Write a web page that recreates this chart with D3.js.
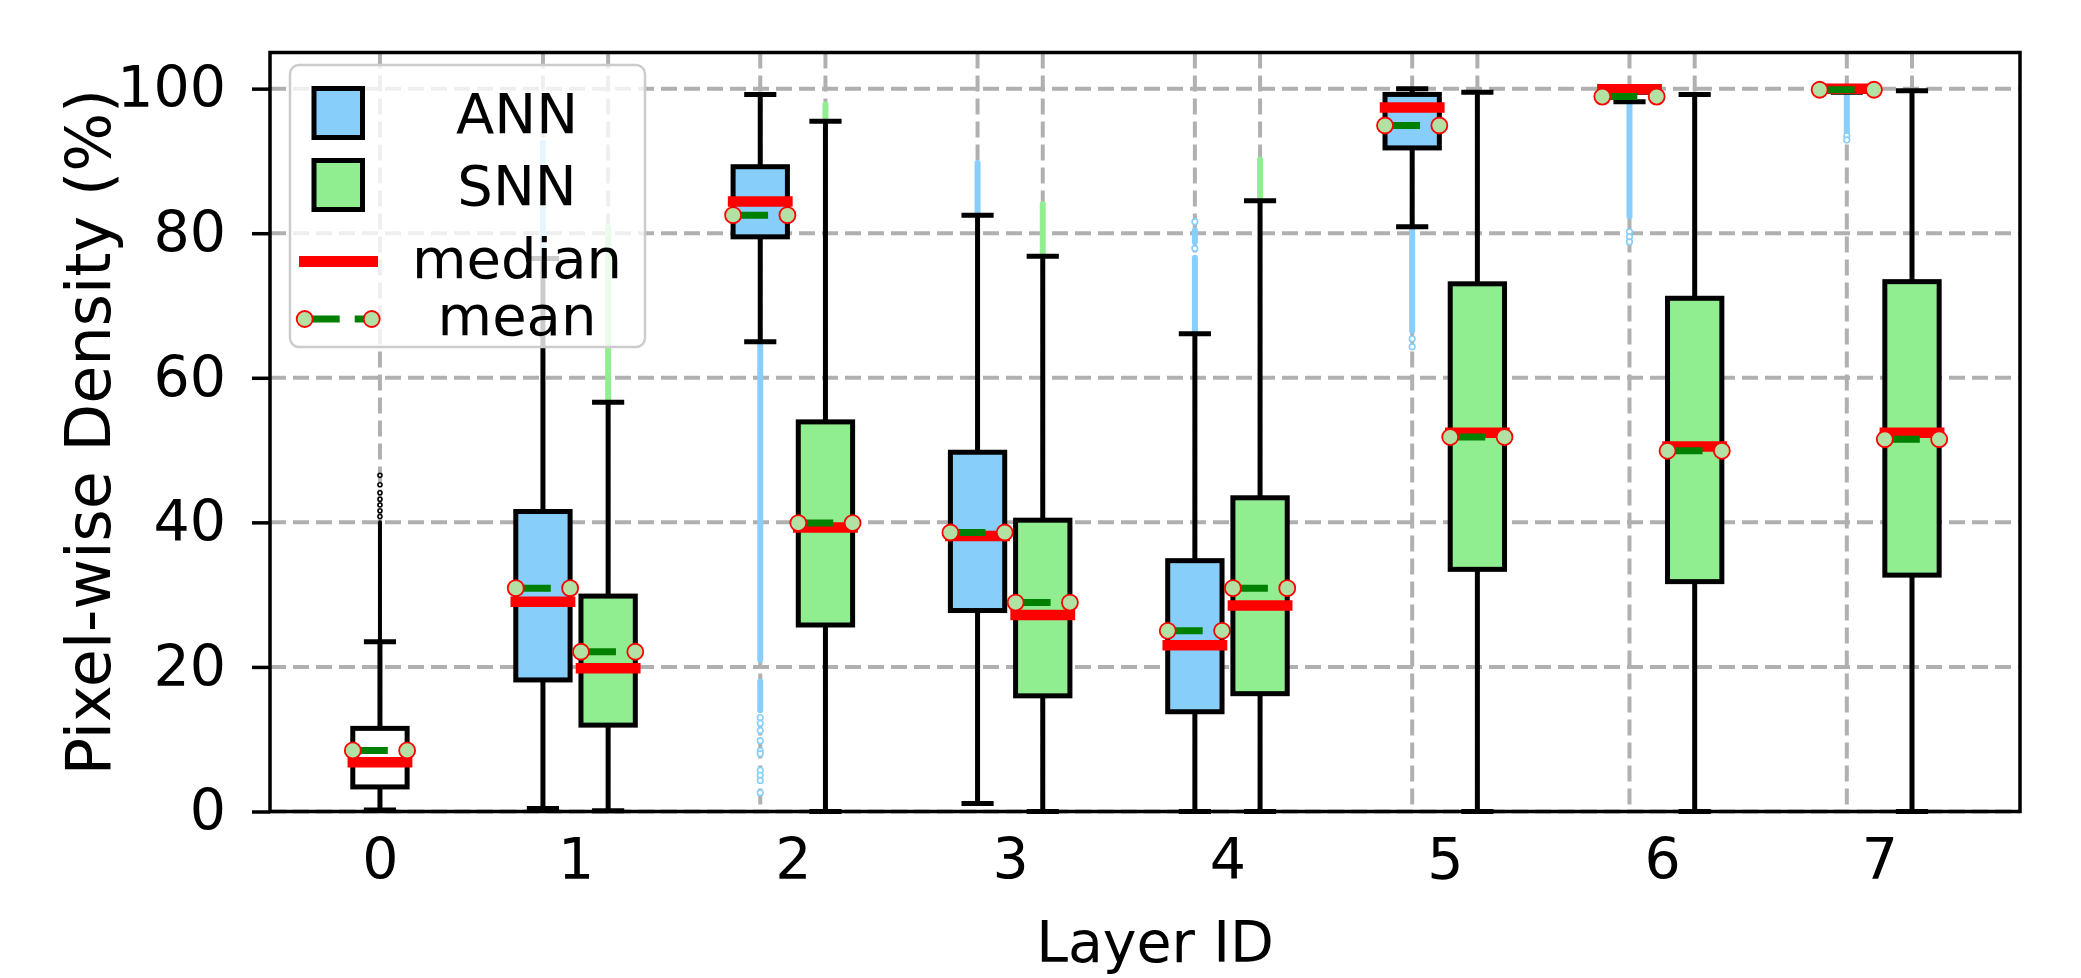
<!DOCTYPE html>
<html>
<head>
<meta charset="utf-8">
<script src="https://cdn.jsdelivr.net/npm/d3@7"></script>
<style>
  html, body { margin: 0; padding: 0; background: #fff; }
  svg { display: block; font-family: "DejaVu Sans", sans-serif; }
</style>
</head>
<body>
<svg id="chart" width="2081" height="978"></svg>
<script>
// ---------------- data ----------------
const layers = ["0", "1", "2", "3", "4", "5", "6", "7"];
const yTicks = [0, 20, 40, 60, 80, 100];

// layer 0 (input, single box)
const inputStats = { lo: 0.2, q1: 3.4, med: 6.8, q3: 11.5, hi: 23.5, mean: 8.45 };
const inputFlierRuns = [[23.5, 40]];
const inputFlierPoints = [40.8, 41.6, 42.4, 43.2, 44.1, 45.2, 46.5];

// layers 1..7
const annLow    = [0.4, 65.0, 1.1, 0.0, 80.9, 98.2, 99.5];
const annQ1     = [18.2, 79.5, 27.8, 13.8, 91.8, 99.5, 99.8];
const annMedian = [29.0, 84.4, 38.1, 23.0, 97.4, 99.9, 100.0];
const annQ3     = [41.5, 89.2, 49.7, 34.7, 99.2, 100.0, 100.0];
const annHigh   = [76.5, 99.2, 82.5, 66.1, 100.0, 100.0, 100.0];
const annMean   = [30.9, 82.5, 38.6, 25.0, 94.9, 98.9, 99.85];
const annFlierRuns = [
  [[76.5, 92.5]],
  [[21, 65], [14, 18]],
  [[82.5, 89.7]],
  [[66.1, 76.6], [78.8, 80.4]],
  [[66.5, 80.9]],
  [[82.3, 98.2]],
  [[94.0, 99.5]]
];
const annFlierPoints = [
  [],
  [13.0, 12.2, 11.2, 9.8, 8.4, 8.0, 5.7, 5.0, 4.3, 2.6],
  [],
  [77.9, 81.6],
  [65.4, 64.3],
  [80.2, 79.5, 78.8],
  [93.5, 92.9]
];

const snnLow    = [0.1, 0.0, 0.0, 0.0, 0.0, 0.0, 0.0];
const snnQ1     = [11.95, 25.8, 16.0, 16.3, 33.5, 31.8, 32.7];
const snnMedian = [19.8, 39.3, 27.2, 28.5, 52.4, 50.5, 52.4];
const snnQ3     = [29.8, 53.9, 40.3, 43.4, 73.0, 71.0, 73.3];
const snnHigh   = [56.6, 95.5, 76.8, 84.5, 99.5, 99.2, 99.7];
const snnMean   = [22.1, 39.9, 28.9, 30.9, 51.8, 49.9, 51.5];
const snnFlierRuns = [
  [[56.6, 80.9]],
  [[95.5, 97.8]],
  [[76.8, 84.0]],
  [[84.5, 90.2]],
  [], [], []
];

const seriesNames = ["ANN", "SNN"];

// ---------------- layout ----------------
const L = 270, R = 2020, T = 52.5, B = 811.5;
const svg = d3.select("#chart");

const x = d3.scaleLinear().domain([-0.406, 7.647]).range([L, R]);
const y = d3.scaleLinear().domain([0, 105]).range([B, T]);

const boxW = 0.25;       // box width in layer units
const pairOff = 0.15;    // ANN / SNN offset from the layer centre
const inputOff = 0.1;    // layer 0 box offset
const layerCenter = i => (i === 0 ? i + inputOff : i);

const colors = {
  ann: "#87cefa", snn: "#90ee90", input: "#ffffff",
  median: "#ff0000", mean: "#008000", meanDot: "#b3e0a3", grid: "#b0b0b0"
};
const lineW = 5;

// ---------------- grid ----------------
const grid = svg.append("g");
grid.selectAll("line.h").data(yTicks).join("line")
  .attr("x1", L).attr("x2", R)
  .attr("y1", d => y(d)).attr("y2", d => y(d))
  .attr("stroke", colors.grid).attr("stroke-width", 4)
  .attr("stroke-dasharray", "16,7");

const boxPositions = [layerCenter(0)];
for (let i = 1; i < layers.length; i++) {
  boxPositions.push(layerCenter(i) - pairOff, layerCenter(i) + pairOff);
}
grid.selectAll("line.v").data(boxPositions).join("line")
  .attr("x1", d => x(d)).attr("x2", d => x(d))
  .attr("y1", T).attr("y2", B)
  .attr("stroke", colors.grid).attr("stroke-width", 4)
  .attr("stroke-dasharray", "16,7");

// ---------------- boxes ----------------
const plot = svg.append("g");
const bwPx = x(boxW) - x(0);

function drawBox(pos, s, fill, flierColor, runs, points, flierSmall) {
  const cx = x(pos);
  const g = plot.append("g");
  // fliers
  g.selectAll("line.run").data(runs).join("line")
    .attr("x1", cx).attr("x2", cx)
    .attr("y1", d => y(d[0])).attr("y2", d => y(d[1]))
    .attr("stroke", flierColor).attr("stroke-width", flierSmall ? 4 : 6)
    .attr("stroke-linecap", "round");
  g.selectAll("circle.pt").data(points).join("circle")
    .attr("cx", cx).attr("cy", d => y(d))
    .attr("r", flierSmall ? 2 : 2.8)
    .attr("fill", "#fff").attr("stroke", flierColor).attr("stroke-width", 1.6);
  // whiskers
  g.append("line").attr("x1", cx).attr("x2", cx)
    .attr("y1", y(s.q1)).attr("y2", y(s.lo))
    .attr("stroke", "#000").attr("stroke-width", lineW);
  g.append("line").attr("x1", cx).attr("x2", cx)
    .attr("y1", y(s.q3)).attr("y2", y(s.hi))
    .attr("stroke", "#000").attr("stroke-width", lineW);
  // caps
  [s.lo, s.hi].forEach(v => {
    g.append("line").attr("x1", cx - bwPx / 4).attr("x2", cx + bwPx / 4)
      .attr("y1", y(v)).attr("y2", y(v))
      .attr("stroke", "#000").attr("stroke-width", lineW)
      .attr("stroke-linecap", "square");
  });
  // box
  g.append("rect")
    .attr("x", cx - bwPx / 2).attr("width", bwPx)
    .attr("y", y(s.q3)).attr("height", Math.max(0, y(s.q1) - y(s.q3)))
    .attr("fill", fill).attr("stroke", "#000").attr("stroke-width", lineW);
  // median
  g.append("line").attr("x1", cx - bwPx / 2).attr("x2", cx + bwPx / 2)
    .attr("y1", y(s.med)).attr("y2", y(s.med))
    .attr("stroke", colors.median).attr("stroke-width", 10.5)
    .attr("stroke-linecap", "square");
  // mean
  g.append("line").attr("x1", cx - bwPx / 2).attr("x2", cx + bwPx / 2)
    .attr("y1", y(s.mean)).attr("y2", y(s.mean))
    .attr("stroke", colors.mean).attr("stroke-width", 7)
    .attr("stroke-dasharray", "35,15");
  [cx - bwPx / 2, cx + bwPx / 2].forEach(px => {
    g.append("circle").attr("cx", px).attr("cy", y(s.mean)).attr("r", 8)
      .attr("fill", colors.meanDot).attr("stroke", colors.median).attr("stroke-width", 1.8);
  });
}

drawBox(layerCenter(0), inputStats, colors.input, "#000", inputFlierRuns, inputFlierPoints, true);
for (let k = 0; k < annQ1.length; k++) {
  const i = k + 1;
  drawBox(layerCenter(i) - pairOff,
    { lo: annLow[k], q1: annQ1[k], med: annMedian[k], q3: annQ3[k], hi: annHigh[k], mean: annMean[k] },
    colors.ann, colors.ann, annFlierRuns[k], annFlierPoints[k], false);
  drawBox(layerCenter(i) + pairOff,
    { lo: snnLow[k], q1: snnQ1[k], med: snnMedian[k], q3: snnQ3[k], hi: snnHigh[k], mean: snnMean[k] },
    colors.snn, colors.snn, snnFlierRuns[k], [], false);
}

// ---------------- axes ----------------
const yAxis = svg.append("g").attr("transform", `translate(${L},0)`)
  .call(d3.axisLeft(y).tickValues(yTicks).tickSize(18).tickPadding(26));
yAxis.select(".domain").remove();
yAxis.selectAll(".tick line").attr("stroke", "#000").attr("stroke-width", 3.5);
yAxis.selectAll(".tick text").attr("font-size", 57).attr("fill", "#000")
  .attr("font-family", "DejaVu Sans");

const xAxis = svg.append("g").attr("transform", `translate(0,${B})`)
  .call(d3.axisBottom(x).tickValues(layers.map((d, i) => layerCenter(i)))
    .tickFormat((d, i) => layers[i]).tickSize(0).tickPadding(27));
xAxis.select(".domain").remove();
xAxis.selectAll(".tick text").attr("font-size", 57).attr("fill", "#000")
  .attr("font-family", "DejaVu Sans");

// spines
svg.append("rect").attr("x", L).attr("y", T).attr("width", R - L).attr("height", B - T)
  .attr("fill", "none").attr("stroke", "#000").attr("stroke-width", 3.5);

// axis titles
svg.append("text").attr("x", 1155).attr("y", 962).attr("text-anchor", "middle")
  .attr("font-size", 57).text("Layer ID");
svg.append("text").attr("transform", `translate(110,${(T + B) / 2}) rotate(-90)`)
  .attr("text-anchor", "middle").attr("font-size", 62).text("Pixel-wise Density (%)");

// ---------------- legend ----------------
const lg = svg.append("g");
lg.append("rect").attr("x", 290).attr("y", 65).attr("width", 355).attr("height", 282)
  .attr("rx", 9).attr("fill", "#fff").attr("fill-opacity", 0.8)
  .attr("stroke", "#cccccc").attr("stroke-width", 2.5);
const rows = [
  { name: seriesNames[0], type: "patch", fill: colors.ann, cy: 113, base: 133 },
  { name: seriesNames[1], type: "patch", fill: colors.snn, cy: 185, base: 205 },
  { name: "median", type: "median", cy: 261.5, base: 278 },
  { name: "mean", type: "mean", cy: 319, base: 335 }
];
rows.forEach(r => {
  if (r.type === "patch") {
    lg.append("rect").attr("x", 314).attr("y", r.cy - 24.5).attr("width", 48.5).attr("height", 49)
      .attr("fill", r.fill).attr("stroke", "#000").attr("stroke-width", 5);
  } else if (r.type === "median") {
    lg.append("line").attr("x1", 299).attr("x2", 378).attr("y1", r.cy).attr("y2", r.cy)
      .attr("stroke", colors.median).attr("stroke-width", 11);
  } else {
    lg.append("line").attr("x1", 304.7).attr("x2", 371.7).attr("y1", r.cy).attr("y2", r.cy)
      .attr("stroke", colors.mean).attr("stroke-width", 7).attr("stroke-dasharray", "35,15");
    [304.7, 371.7].forEach(px => lg.append("circle").attr("cx", px).attr("cy", r.cy).attr("r", 8)
      .attr("fill", colors.meanDot).attr("stroke", colors.median).attr("stroke-width", 1.8));
  }
  lg.append("text").attr("x", 517).attr("y", r.base).attr("text-anchor", "middle")
    .attr("font-size", 56).text(r.name);
});
</script>
</body>
</html>
